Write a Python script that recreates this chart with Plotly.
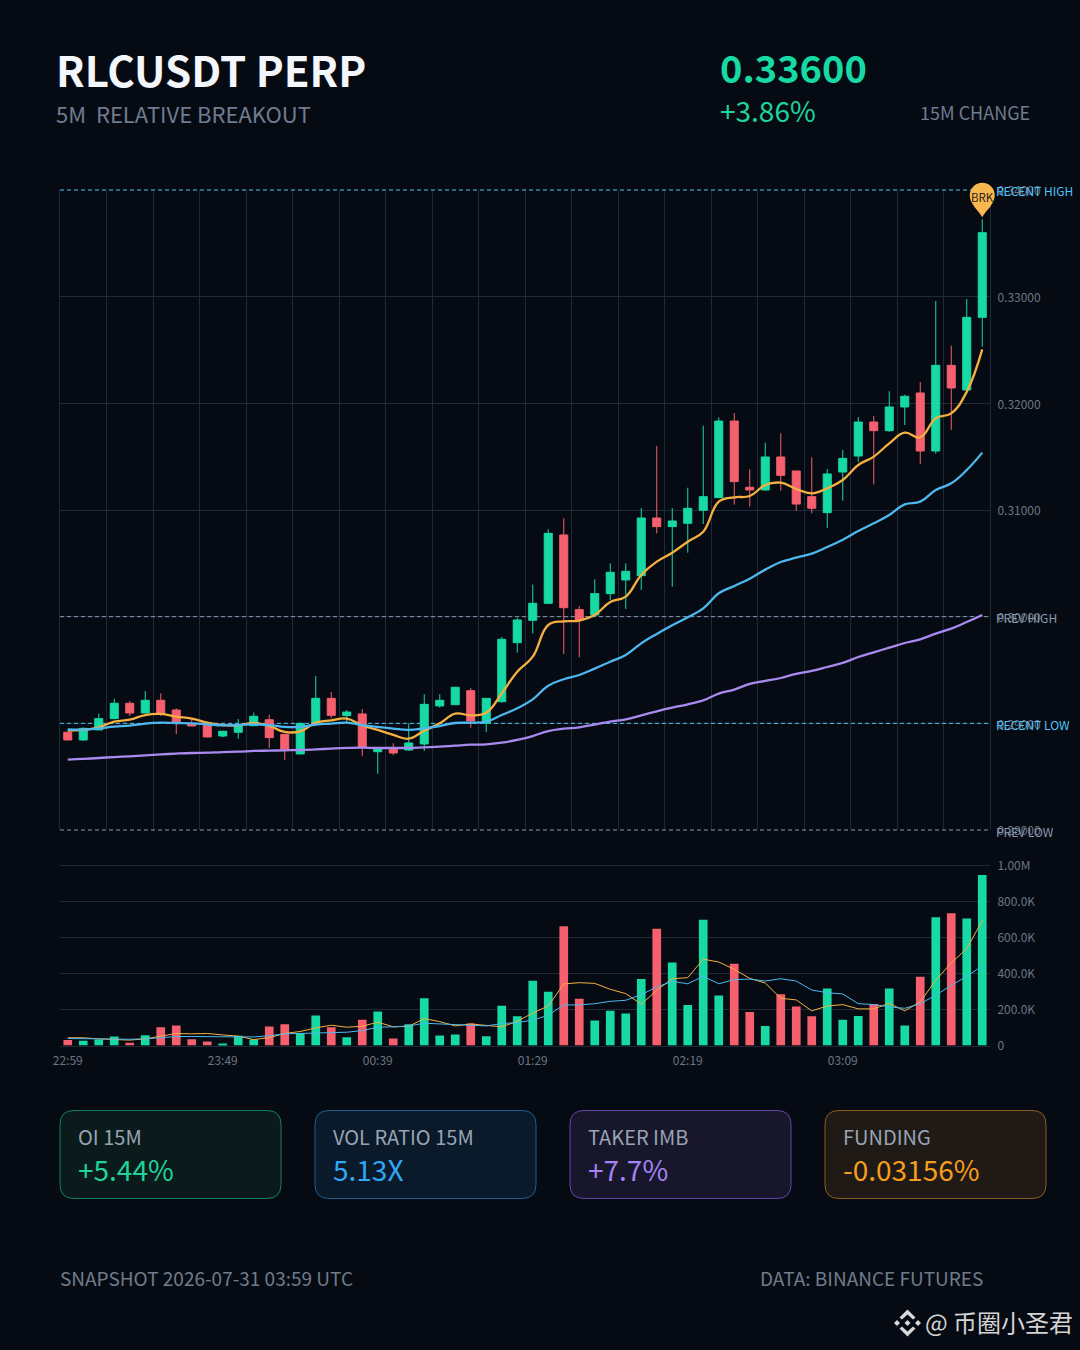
import plotly.graph_objects as go

W = 1080
H = 1350

BG = '#060B13'
GREEN = '#16D9A3'
RED = '#F65F6E'
GRID = '#1F2A38'
TICK = '#6B7685'
ORANGE = '#F5B041'
BLUE = '#4DB8F0'
PURPLE = '#A98BF0'
FONT = 'Noto Sans CJK SC'

# 60 bars, 5m each
bars = list(range(60))

opens = [0.28916, 0.28844, 0.28938, 0.29044, 0.29188, 0.29097, 0.29216, 0.29125, 0.28994, 0.28984,
         0.28881, 0.28916, 0.28978, 0.29034, 0.28897, 0.28713, 0.29000, 0.29234, 0.29072, 0.29088,
         0.28734, 0.28766, 0.28750, 0.28806, 0.29163, 0.29175, 0.29306, 0.29000, 0.29203, 0.29756,
         0.29966, 0.30125, 0.30766, 0.30066, 0.30016, 0.30216, 0.30344, 0.30384, 0.30925, 0.30844,
         0.30875, 0.30997, 0.31116, 0.31834, 0.31213, 0.31188, 0.31497, 0.31366, 0.31125, 0.30975,
         0.31356, 0.31506, 0.31825, 0.31744, 0.31966, 0.32097, 0.31553, 0.32356, 0.32125, 0.32806]
closes = [0.28844, 0.28953, 0.29044, 0.29188, 0.29097, 0.29216, 0.29088, 0.29009, 0.28975, 0.28872,
          0.28925, 0.28984, 0.29066, 0.28866, 0.28756, 0.29000, 0.29234, 0.29075, 0.29106, 0.28775,
          0.28766, 0.28722, 0.28816, 0.29178, 0.29216, 0.29338, 0.29022, 0.29234, 0.29788, 0.29969,
          0.30125, 0.30781, 0.30084, 0.29969, 0.30216, 0.30416, 0.30425, 0.30925, 0.30844, 0.30897,
          0.31016, 0.31125, 0.31834, 0.31266, 0.31188, 0.31497, 0.31325, 0.31056, 0.31016, 0.31338,
          0.31484, 0.31825, 0.31744, 0.31966, 0.32066, 0.31553, 0.32356, 0.32144, 0.32806, 0.33600]
highs = [0.28916, 0.28962, 0.29091, 0.29231, 0.29209, 0.29303, 0.29281, 0.29141, 0.29038, 0.29000,
         0.28931, 0.29041, 0.29100, 0.29081, 0.28900, 0.29000, 0.29444, 0.29294, 0.29125, 0.29134,
         0.28775, 0.28813, 0.29000, 0.29272, 0.29272, 0.29338, 0.29331, 0.29234, 0.29809, 0.29988,
         0.30300, 0.30819, 0.30922, 0.30100, 0.30350, 0.30500, 0.30500, 0.31019, 0.31600, 0.31019,
         0.31209, 0.31791, 0.31869, 0.31909, 0.31381, 0.31631, 0.31719, 0.31366, 0.31494, 0.31384,
         0.31563, 0.31872, 0.31881, 0.32113, 0.32081, 0.32200, 0.32959, 0.32541, 0.32978, 0.33725]
lows = [0.28841, 0.28834, 0.28938, 0.29038, 0.29069, 0.29094, 0.29069, 0.28900, 0.28975, 0.28869,
        0.28869, 0.28856, 0.28975, 0.28769, 0.28656, 0.28713, 0.29000, 0.29047, 0.29006, 0.28691,
        0.28528, 0.28700, 0.28741, 0.28741, 0.29147, 0.29175, 0.28959, 0.28919, 0.29194, 0.29663,
        0.29844, 0.30125, 0.29650, 0.29619, 0.30000, 0.30156, 0.30072, 0.30250, 0.30781, 0.30281,
        0.30600, 0.30869, 0.31116, 0.31050, 0.31031, 0.31181, 0.31181, 0.30994, 0.30969, 0.30831,
        0.31088, 0.31450, 0.31241, 0.31731, 0.31797, 0.31431, 0.31528, 0.31750, 0.32091, 0.32531]

ma_fast = [0.28931, 0.28938, 0.28963, 0.29016, 0.29034, 0.29078, 0.29088, 0.29063, 0.29044, 0.29006,
           0.28984, 0.28981, 0.29003, 0.28975, 0.28919, 0.28925, 0.29006, 0.29028, 0.29044, 0.28981,
           0.28938, 0.28891, 0.28856, 0.28931, 0.29000, 0.29091, 0.29075, 0.29100, 0.29281, 0.29484,
           0.29625, 0.29922, 0.29956, 0.29963, 0.30016, 0.30138, 0.30188, 0.30391, 0.30516, 0.30600,
           0.30703, 0.30797, 0.31078, 0.31119, 0.31131, 0.31234, 0.31256, 0.31197, 0.31156, 0.31203,
           0.31281, 0.31422, 0.31500, 0.31625, 0.31725, 0.31681, 0.31859, 0.31906, 0.32109, 0.32506]
ma_mid = [0.28944, 0.28941, 0.28953, 0.28969, 0.28978, 0.28997, 0.29006, 0.29003, 0.29000, 0.28991,
          0.28981, 0.28984, 0.28991, 0.28984, 0.28966, 0.28966, 0.28988, 0.28997, 0.29006, 0.28984,
          0.28966, 0.28950, 0.28938, 0.28953, 0.28975, 0.29003, 0.29006, 0.29016, 0.29078, 0.29141,
          0.29225, 0.29353, 0.29413, 0.29453, 0.29513, 0.29578, 0.29641, 0.29750, 0.29838, 0.29919,
          0.29994, 0.30078, 0.30219, 0.30288, 0.30356, 0.30441, 0.30513, 0.30553, 0.30591, 0.30653,
          0.30722, 0.30803, 0.30875, 0.30953, 0.31053, 0.31078, 0.31188, 0.31250, 0.31375, 0.31538]
ma_slow = [0.28659, 0.28666, 0.28675, 0.28684, 0.28691, 0.28700, 0.28709, 0.28716, 0.28722, 0.28725,
           0.28731, 0.28734, 0.28741, 0.28744, 0.28747, 0.28750, 0.28756, 0.28763, 0.28769, 0.28772,
           0.28769, 0.28769, 0.28769, 0.28775, 0.28781, 0.28791, 0.28800, 0.28803, 0.28819, 0.28844,
           0.28881, 0.28928, 0.28950, 0.28963, 0.28988, 0.29016, 0.29038, 0.29075, 0.29113, 0.29147,
           0.29178, 0.29216, 0.29278, 0.29316, 0.29369, 0.29397, 0.29425, 0.29463, 0.29491, 0.29528,
           0.29566, 0.29622, 0.29666, 0.29709, 0.29753, 0.29788, 0.29841, 0.29888, 0.29950, 0.30016]

volume = [31e3, 26e3, 33e3, 50e3, 15e3, 57e3, 102e3, 111e3, 35e3, 22e3,
          11e3, 54e3, 33e3, 106e3, 119e3, 69e3, 167e3, 102e3, 46e3, 144e3,
          189e3, 39e3, 119e3, 263e3, 56e3, 61e3, 122e3, 52e3, 222e3, 163e3,
          361e3, 300e3, 665e3, 261e3, 139e3, 194e3, 178e3, 370e3, 650e3, 463e3,
          226e3, 700e3, 278e3, 456e3, 187e3, 109e3, 285e3, 217e3, 163e3, 317e3,
          144e3, 165e3, 231e3, 317e3, 111e3, 383e3, 715e3, 737e3, 707e3, 950e3]
vol_fast = [43e3, 43e3, 37e3, 33e3, 30e3, 37e3, 50e3, 67e3, 65e3, 67e3,
            59e3, 52e3, 33e3, 44e3, 67e3, 78e3, 98e3, 113e3, 102e3, 107e3,
            130e3, 104e3, 107e3, 150e3, 133e3, 109e3, 120e3, 111e3, 104e3, 135e3,
            181e3, 220e3, 343e3, 350e3, 346e3, 313e3, 289e3, 230e3, 307e3, 372e3,
            378e3, 481e3, 465e3, 424e3, 374e3, 348e3, 263e3, 254e3, 193e3, 220e3,
            228e3, 204e3, 204e3, 235e3, 193e3, 243e3, 363e3, 461e3, 539e3, 696e3]
vol_slow = [39e3, 37e3, 35e3, 33e3, 35e3, 37e3, 44e3, 50e3, 50e3, 48e3,
            48e3, 48e3, 48e3, 54e3, 65e3, 67e3, 72e3, 72e3, 74e3, 83e3,
            102e3, 104e3, 109e3, 124e3, 120e3, 117e3, 115e3, 109e3, 122e3, 128e3,
            141e3, 169e3, 226e3, 226e3, 233e3, 246e3, 252e3, 283e3, 326e3, 357e3,
            344e3, 385e3, 344e3, 367e3, 370e3, 359e3, 372e3, 359e3, 309e3, 294e3,
            287e3, 233e3, 228e3, 215e3, 207e3, 233e3, 280e3, 335e3, 385e3, 444e3]

price_ticks = [0.28, 0.29, 0.30, 0.31, 0.32, 0.33, 0.34]
vol_ticks = [0, 200e3, 400e3, 600e3, 800e3, 1e6]
vol_tick_text = ['0', '200.0K', '400.0K', '600.0K', '800.0K', '1.00M']
time_ticks = [0, 10, 20, 30, 40, 50]
time_tick_text = ['22:59', '23:49', '00:39', '01:29', '02:19', '03:09']

level_prices = [0.34, 0.30, 0.29, 0.28]
level_names = ['RECENT HIGH', 'PREV HIGH', 'RECENT LOW', 'PREV LOW']
level_colors = ['#4FC3F7', '#8A99B0', '#4FC3F7', '#8A99B0']

card_labels = ['OI 15M', 'VOL RATIO 15M', 'TAKER IMB', 'FUNDING']
card_values = ['+5.44%', '5.13X', '+7.7%', '-0.03156%']
card_value_colors = ['#1FD39B', '#2FA8F5', '#A582F5', '#F59E1B']
card_fills = ['#0B1B1C', '#0A1A2A', '#17162A', '#1F1A16']
card_borders = ['#13805F', '#1F5F8E', '#6547A8', '#8C5E20']
card_lefts = [60, 315, 570, 825]


def px(x):
    return x / W


def py(y):
    return 1 - y / H


def label(x, y, text, size, color, anchor='left', bold=False):
    if bold:
        text = '<b>' + text + '</b>'
    fig.add_annotation(xref='paper', yref='paper', x=px(x), y=py(y), text=text,
                       showarrow=False, xanchor=anchor, yanchor='middle',
                       borderpad=0, borderwidth=0,
                       font=dict(size=size, color=color, family=FONT))


def poly(points, color):
    path = 'M' + ' L'.join('%.5f,%.5f' % (px(a), py(b)) for a, b in points) + ' Z'
    fig.add_shape(type='path', xref='paper', yref='paper', path=path,
                  fillcolor=color, line=dict(width=0), layer='above')


def card(x0, y0, x1, y1, r, fill, border):
    path = ('M%.5f,%.5f L%.5f,%.5f Q%.5f,%.5f %.5f,%.5f L%.5f,%.5f Q%.5f,%.5f %.5f,%.5f '
            'L%.5f,%.5f Q%.5f,%.5f %.5f,%.5f L%.5f,%.5f Q%.5f,%.5f %.5f,%.5f Z' % (
                px(x0 + r), py(y0), px(x1 - r), py(y0), px(x1), py(y0), px(x1), py(y0 + r),
                px(x1), py(y1 - r), px(x1), py(y1), px(x1 - r), py(y1),
                px(x0 + r), py(y1), px(x0), py(y1), px(x0), py(y1 - r),
                px(x0), py(y0 + r), px(x0), py(y0), px(x0 + r), py(y0)))
    fig.add_shape(type='path', xref='paper', yref='paper', path=path, fillcolor=fill,
                  line=dict(color=border, width=1), layer='below')


def price_to_paper(price):
    return py(830) + (price - 0.28) / 0.06 * (py(190) - py(830))


fig = go.Figure()

fig.add_trace(go.Candlestick(x=bars, open=opens, high=highs, low=lows, close=closes,
                             increasing=dict(line=dict(color=GREEN, width=1), fillcolor=GREEN),
                             decreasing=dict(line=dict(color=RED, width=1), fillcolor=RED),
                             whiskerwidth=0, showlegend=False, hoverinfo='skip',
                             xaxis='x', yaxis='y'))
for series, color in [(ma_fast, ORANGE), (ma_mid, BLUE), (ma_slow, PURPLE)]:
    fig.add_trace(go.Scatter(x=bars, y=series, mode='lines', showlegend=False, hoverinfo='skip',
                             line=dict(color=color, width=2.3, shape='spline', smoothing=1.2),
                             xaxis='x', yaxis='y'))

vol_colors = [GREEN if c >= o else RED for o, c in zip(opens, closes)]
fig.add_trace(go.Bar(x=bars, y=volume, marker=dict(color=vol_colors, line=dict(width=0)),
                     showlegend=False, hoverinfo='skip', xaxis='x2', yaxis='y2'))
for series, color in [(vol_fast, ORANGE), (vol_slow, BLUE)]:
    fig.add_trace(go.Scatter(x=bars, y=series, mode='lines', showlegend=False, hoverinfo='skip',
                             line=dict(color=color, width=1), xaxis='x2', yaxis='y2'))

tick_font = dict(size=12, color=TICK, family=FONT)
fig.update_layout(
    width=W, height=H, autosize=False,
    margin=dict(l=0, r=0, t=0, b=0, autoexpand=False),
    paper_bgcolor=BG, plot_bgcolor=BG,
    bargap=0.44, boxgap=0.48, boxgroupgap=0,
    showlegend=False,
    font=dict(family=FONT, color=TICK),
    xaxis=dict(domain=[px(60), px(990)], range=[-0.5, 59.5], tick0=-0.5, dtick=3,
               showgrid=True, gridcolor=GRID, gridwidth=1, zeroline=False,
               showticklabels=False, ticks='', rangeslider=dict(visible=False)),
    yaxis=dict(domain=[py(830), py(190)], range=[0.28, 0.34], side='right',
               tickvals=price_ticks, tickformat='.5f', tickfont=tick_font,
               showgrid=True, gridcolor=GRID, gridwidth=1, zeroline=False,
               showline=True, linecolor=GRID, linewidth=1, mirror=True,
               ticks='outside', ticklen=4, tickcolor='rgba(0,0,0,0)', ticklabelshift=1),
    xaxis2=dict(domain=[px(60), px(990)], range=[-0.5, 59.5], anchor='y2',
                tickvals=time_ticks, ticktext=time_tick_text, tickfont=tick_font,
                showgrid=False, zeroline=False,
                showline=True, linecolor=GRID, linewidth=1, mirror=True,
                ticks='outside', ticklen=4, tickcolor='rgba(0,0,0,0)'),
    yaxis2=dict(domain=[py(1045.5), py(866)], range=[0, 1e6], side='right', anchor='x2',
                tickvals=vol_ticks, ticktext=vol_tick_text, tickfont=tick_font,
                showgrid=True, gridcolor=GRID, gridwidth=1, zeroline=False,
                ticks='outside', ticklen=4, tickcolor='rgba(0,0,0,0)'),
)

# key levels, the ones on the plot edge go on paper so the clip does not halve them
for price, name, color in zip(level_prices, level_names, level_colors):
    dash_line = dict(color=color, width=1, dash='4px,3px')
    if price in (0.34, 0.28):
        y_level = price_to_paper(price)
        fig.add_shape(type='line', xref='paper', yref='paper', x0=px(60), x1=px(990),
                      y0=y_level, y1=y_level, line=dash_line, layer='above')
    else:
        fig.add_shape(type='line', xref='x', yref='y', x0=-0.5, x1=59.5, y0=price, y1=price,
                      line=dash_line, layer='between')
    fig.add_annotation(xref='paper', yref='y', x=px(995), y=price, yshift=-1, text=name,
                       showarrow=False, xanchor='left', yanchor='middle', borderpad=0,
                       font=dict(size=12, color=color, family=FONT))

# breakout pin sits above the last high, paper refs so it is not clipped by the plot area
pin_x = px(60) + (bars[-1] + 0.5) / len(bars) * (px(990) - px(60))
pin_y = price_to_paper(highs[-1])
fig.add_shape(type='path', xref='paper', yref='paper', xsizemode='pixel', ysizemode='pixel',
              xanchor=pin_x, yanchor=pin_y,
              path='M0,2 C-3,8 -12.5,15 -12.5,24 C-12.5,31 -7,36.5 0,36.5 '
                   'C7,36.5 12.5,31 12.5,24 C12.5,15 3,8 0,2 Z',
              fillcolor='#F8B84E', line=dict(width=0), layer='above')
fig.add_annotation(xref='paper', yref='paper', x=pin_x, y=pin_y, yshift=22, text='BRK',
                   xanchor='center', yanchor='middle', borderpad=0, showarrow=False,
                   font=dict(size=11.5, color='#2A2118', family=FONT))

# header
label(56, 68.5, 'RLCUSDT PERP', 42, '#F3F6FB', bold=True)
label(56, 113, '5M  RELATIVE BREAKOUT', 22, '#6F7C90')
label(720, 66.5, '0.33600', 38, GREEN, bold=True)
label(720, 110, '+3.86%', 28, '#1FD39B')
label(1030, 112, '15M CHANGE', 18, '#6F7C90', anchor='right')

# stat cards
for i in range(4):
    x0 = card_lefts[i]
    card(x0, 1110.5, x0 + 221, 1198.5, 14, card_fills[i], card_borders[i])
    label(x0 + 18, 1136, card_labels[i], 20, '#98A4B5')
    label(x0 + 18, 1169, card_values[i], 28, card_value_colors[i])

# footer
label(60, 1277, 'SNAPSHOT 2026-07-31 03:59 UTC', 19, '#6F7C8C')
label(983, 1277, 'DATA: BINANCE FUTURES', 19, '#6F7C8C', anchor='right')
label(925, 1321, '@ 币圈小圣君', 24, '#D4D4D4')

# exchange logo
cx, cy = 907.5, 1323
LOGO = '#D8D8D8'
for dx, dy, r in [(-10.5, 0, 3), (10.5, 0, 3), (0, 0, 3)]:
    poly([(cx + dx - r, cy + dy), (cx + dx, cy + dy - r), (cx + dx + r, cy + dy), (cx + dx, cy + dy + r)], LOGO)
for s in (-1, 1):
    poly([(cx - 8, cy + s * 5.5), (cx, cy + s * 13.5), (cx + 8, cy + s * 5.5), (cx + 5.5, cy + s * 3.5),
          (cx, cy + s * 8.5), (cx - 5.5, cy + s * 3.5)], LOGO)

fig.write_html("out.html", config=dict(displayModeBar=False),
               post_script="document.body.style.margin='0';document.body.style.background='%s';" % BG)
